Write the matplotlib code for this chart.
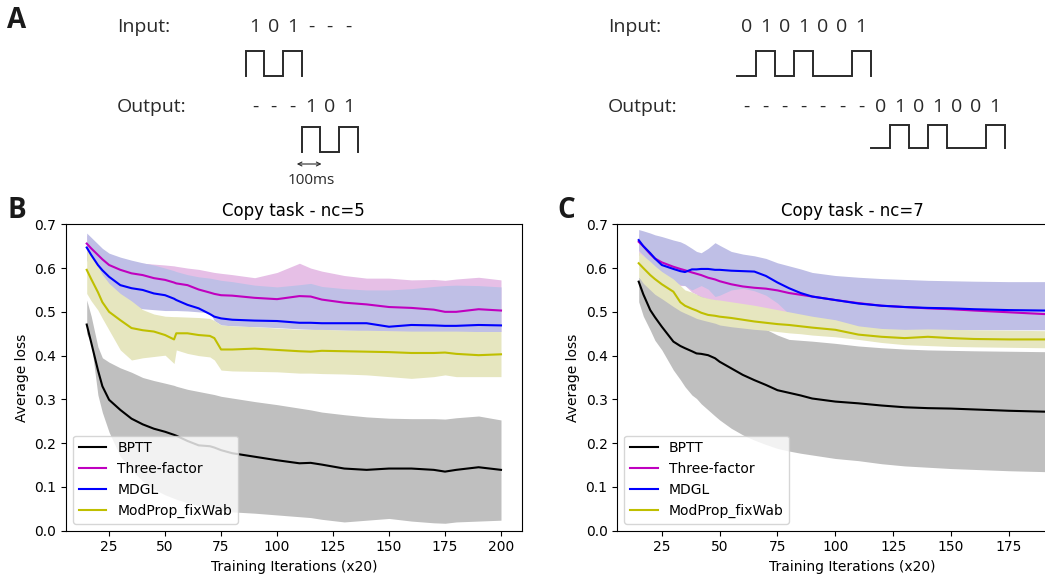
import matplotlib
matplotlib.use('Agg')
import matplotlib.pyplot as plt

# ---- panel A: copy task examples ----
bits_short = [1, 0, 1]
bits_long = [0, 1, 0, 1, 0, 0, 1]

# ---- panel B: copy task nc=5 ----
iters_b = [15, 17, 20, 22, 25, 30, 35, 40, 45, 50, 54, 55, 60, 65, 70, 72,
           75, 80, 90, 100, 110, 115, 120, 130, 140, 150, 160, 170, 175, 180, 190, 200]
bptt_b = [0.471, 0.43, 0.367, 0.33, 0.299, 0.276, 0.256, 0.243, 0.233, 0.226, 0.219, 0.217, 0.205, 0.195, 0.193, 0.19,
          0.184, 0.177, 0.169, 0.161, 0.154, 0.155, 0.151, 0.142, 0.139, 0.142, 0.142, 0.139, 0.135, 0.139, 0.145, 0.139]
bptt_b_hi = [0.527, 0.49, 0.42, 0.395, 0.385, 0.372, 0.362, 0.35, 0.343, 0.337, 0.332, 0.33, 0.323, 0.318, 0.313, 0.311,
             0.307, 0.303, 0.295, 0.288, 0.28, 0.276, 0.271, 0.265, 0.26, 0.257, 0.256, 0.256, 0.255, 0.258, 0.262, 0.253]
bptt_b_lo = [0.45, 0.43, 0.31, 0.27, 0.225, 0.17, 0.14, 0.113, 0.095, 0.082, 0.074, 0.072, 0.064, 0.057, 0.052, 0.05,
             0.047, 0.043, 0.04, 0.036, 0.032, 0.03, 0.026, 0.02, 0.024, 0.028, 0.022, 0.018, 0.017, 0.02, 0.022, 0.024]
three_b = [0.656, 0.645, 0.63, 0.62, 0.607, 0.596, 0.588, 0.584, 0.577, 0.573, 0.567, 0.565, 0.561, 0.551, 0.544, 0.541,
           0.538, 0.537, 0.532, 0.529, 0.536, 0.535, 0.528, 0.521, 0.517, 0.511, 0.509, 0.505, 0.5, 0.5, 0.506, 0.503]
three_b_hi = [0.676, 0.665, 0.65, 0.64, 0.63, 0.62, 0.615, 0.611, 0.609, 0.607, 0.605, 0.604, 0.6, 0.597, 0.592, 0.59,
              0.588, 0.585, 0.578, 0.59, 0.611, 0.6, 0.593, 0.583, 0.577, 0.577, 0.573, 0.574, 0.572, 0.575, 0.579, 0.573]
three_b_lo = [0.63, 0.62, 0.6, 0.59, 0.575, 0.56, 0.55, 0.54, 0.535, 0.53, 0.525, 0.52, 0.515, 0.505, 0.5, 0.495,
              0.49, 0.49, 0.485, 0.48, 0.47, 0.47, 0.465, 0.46, 0.46, 0.455, 0.455, 0.455, 0.455, 0.455, 0.455, 0.455]
mdgl_b = [0.647, 0.63, 0.607, 0.595, 0.58, 0.561, 0.554, 0.55, 0.542, 0.538, 0.53, 0.527, 0.516, 0.508, 0.495, 0.489,
          0.485, 0.482, 0.48, 0.479, 0.475, 0.475, 0.474, 0.474, 0.474, 0.466, 0.47, 0.469, 0.468, 0.468, 0.47, 0.469]
mdgl_b_hi = [0.68, 0.67, 0.655, 0.645, 0.634, 0.625, 0.618, 0.612, 0.607, 0.6, 0.594, 0.592, 0.585, 0.58, 0.577, 0.575,
             0.572, 0.569, 0.561, 0.557, 0.562, 0.565, 0.558, 0.553, 0.55, 0.55, 0.553, 0.558, 0.56, 0.561, 0.56, 0.557]
mdgl_b_lo = [0.618, 0.6, 0.575, 0.562, 0.55, 0.527, 0.512, 0.507, 0.505, 0.503, 0.503, 0.503, 0.502, 0.5, 0.498, 0.48,
             0.47, 0.468, 0.466, 0.464, 0.461, 0.46, 0.459, 0.458, 0.457, 0.456, 0.455, 0.455, 0.455, 0.455, 0.455, 0.455]
modprop_b = [0.596, 0.575, 0.545, 0.522, 0.5, 0.481, 0.463, 0.458, 0.455, 0.447, 0.437, 0.451, 0.451, 0.447, 0.445, 0.44,
             0.414, 0.414, 0.416, 0.413, 0.41, 0.409, 0.411, 0.41, 0.409, 0.408, 0.406, 0.406, 0.407, 0.404, 0.401, 0.403]
modprop_b_hi = [0.649, 0.63, 0.603, 0.585, 0.565, 0.542, 0.525, 0.505, 0.495, 0.49, 0.489, 0.489, 0.488, 0.487, 0.485, 0.48,
                0.47, 0.468, 0.466, 0.463, 0.46, 0.46, 0.46, 0.458, 0.458, 0.457, 0.456, 0.456, 0.456, 0.456, 0.455, 0.455]
modprop_b_lo = [0.542, 0.525, 0.504, 0.485, 0.458, 0.413, 0.39, 0.395, 0.398, 0.401, 0.382, 0.413, 0.405, 0.4, 0.397, 0.39,
                0.367, 0.365, 0.364, 0.363, 0.36, 0.36, 0.359, 0.358, 0.356, 0.352, 0.348, 0.352, 0.356, 0.352, 0.352, 0.352]

# ---- panel C: copy task nc=7 ----
iters_c = [15, 17, 20, 22, 25, 30, 33, 35, 38, 40, 42, 45, 48, 50, 55, 60,
           65, 70, 75, 80, 85, 90, 100, 110, 120, 130, 140, 150, 160, 175, 190, 200]
bptt_c = [0.569, 0.54, 0.504, 0.488, 0.466, 0.432, 0.422, 0.417, 0.41, 0.405, 0.404, 0.401, 0.394, 0.386, 0.371, 0.356,
          0.344, 0.333, 0.321, 0.315, 0.309, 0.302, 0.295, 0.291, 0.286, 0.282, 0.28, 0.279, 0.277, 0.274, 0.272, 0.271]
bptt_c_hi = [0.58, 0.57, 0.56, 0.555, 0.55, 0.545, 0.542, 0.54, 0.541, 0.54, 0.54, 0.535, 0.53, 0.52, 0.5, 0.485,
             0.47, 0.46, 0.447, 0.437, 0.435, 0.433, 0.428, 0.422, 0.418, 0.415, 0.413, 0.412, 0.411, 0.41, 0.409, 0.409]
bptt_c_lo = [0.523, 0.49, 0.458, 0.435, 0.413, 0.367, 0.345, 0.329, 0.31, 0.302, 0.29, 0.276, 0.262, 0.253, 0.234, 0.219,
             0.207, 0.197, 0.188, 0.182, 0.177, 0.173, 0.165, 0.16, 0.153, 0.148, 0.145, 0.142, 0.14, 0.137, 0.135, 0.135]
three_c = [0.66, 0.65, 0.632, 0.622, 0.613, 0.603, 0.598, 0.595, 0.59, 0.587, 0.584, 0.578, 0.574, 0.57, 0.563, 0.558,
           0.555, 0.553, 0.549, 0.543, 0.539, 0.535, 0.527, 0.52, 0.514, 0.511, 0.508, 0.506, 0.503, 0.499, 0.495, 0.494]
three_c_hi = [0.678, 0.675, 0.67, 0.666, 0.662, 0.654, 0.65, 0.645, 0.635, 0.628, 0.625, 0.635, 0.648, 0.642, 0.628, 0.622,
              0.618, 0.614, 0.602, 0.595, 0.59, 0.58, 0.573, 0.57, 0.566, 0.564, 0.562, 0.561, 0.56, 0.559, 0.559, 0.559]
three_c_lo = [0.63, 0.62, 0.6, 0.59, 0.58, 0.565, 0.56, 0.56, 0.545, 0.54, 0.535, 0.53, 0.527, 0.525, 0.52, 0.515,
              0.51, 0.505, 0.5, 0.498, 0.49, 0.485, 0.48, 0.47, 0.47, 0.468, 0.468, 0.468, 0.468, 0.468, 0.468, 0.468]
mdgl_c = [0.664, 0.65, 0.634, 0.622, 0.607, 0.598, 0.593, 0.591, 0.597, 0.597, 0.598, 0.598, 0.596, 0.596, 0.594, 0.593,
          0.592, 0.582, 0.567, 0.554, 0.543, 0.535, 0.527, 0.519, 0.514, 0.511, 0.509, 0.508, 0.506, 0.504, 0.503, 0.503]
mdgl_c_hi = [0.688, 0.685, 0.68, 0.676, 0.672, 0.664, 0.66, 0.655, 0.645, 0.638, 0.635, 0.645, 0.658, 0.652, 0.638, 0.632,
             0.628, 0.622, 0.612, 0.605, 0.598, 0.59, 0.583, 0.579, 0.576, 0.574, 0.572, 0.571, 0.57, 0.569, 0.569, 0.569]
mdgl_c_lo = [0.64, 0.63, 0.61, 0.6, 0.585, 0.57, 0.562, 0.56, 0.55, 0.555, 0.56, 0.552, 0.535, 0.538, 0.55, 0.554,
             0.548, 0.538, 0.52, 0.495, 0.485, 0.48, 0.475, 0.462, 0.46, 0.459, 0.459, 0.459, 0.459, 0.459, 0.459, 0.459]
modprop_c = [0.611, 0.6, 0.584, 0.575, 0.563, 0.546, 0.522, 0.514, 0.507, 0.503, 0.498, 0.493, 0.491, 0.489, 0.486, 0.482,
             0.478, 0.475, 0.472, 0.47, 0.467, 0.464, 0.459, 0.448, 0.443, 0.44, 0.443, 0.44, 0.438, 0.437, 0.437, 0.437]
modprop_c_hi = [0.637, 0.628, 0.615, 0.605, 0.592, 0.575, 0.56, 0.55, 0.545, 0.54, 0.535, 0.531, 0.528, 0.527, 0.523, 0.519,
                0.515, 0.51, 0.505, 0.5, 0.495, 0.49, 0.482, 0.468, 0.462, 0.46, 0.461, 0.46, 0.459, 0.458, 0.457, 0.457]
modprop_c_lo = [0.58, 0.565, 0.55, 0.54, 0.53, 0.512, 0.502, 0.497, 0.49, 0.485, 0.482, 0.478, 0.474, 0.47, 0.466, 0.463,
                0.46, 0.458, 0.455, 0.452, 0.45, 0.447, 0.443, 0.437, 0.43, 0.425, 0.423, 0.421, 0.42, 0.419, 0.418, 0.418]

methods = ['BPTT', 'Three-factor', 'MDGL', 'ModProp_fixWab']
line_colors = ['k', 'm', 'b', 'y']
band_colors = ['#bfbfbf', '#e6bfe6', '#bfbfe6', '#e6e6bf']

ill_font = ['Open Sans', 'DejaVu Sans']
ink = '#2a2a2a'

fig = plt.figure(figsize=(10.45, 5.76), dpi=100)

# illustration layer, pixel coordinates
axA = fig.add_axes([0, 0, 1, 1])
axA.set_xlim(0, 1045)
axA.set_ylim(576, 0)
axA.axis('off')


def square_wave(bits, x0, w, y_low, y_high):
    xs, ys = [x0], [y_low]
    for i, b in enumerate(bits):
        lvl = y_high if b else y_low
        xs += [x0 + i * w, x0 + (i + 1) * w]
        ys += [lvl, lvl]
    xs.append(x0 + len(bits) * w)
    ys.append(y_low)
    return xs, ys


def draw_example(bits, label_x, x0, w, out_lo, out_hi, input_dashes=True, arrow=False):
    n = len(bits)
    axA.text(label_x, 32, 'Input:', fontsize=14, family=ill_font, color=ink, va='baseline')
    axA.text(label_x, 112, 'Output:', fontsize=14, family=ill_font, color=ink, va='baseline')
    ins = [str(b) for b in bits] + (['-'] * n if input_dashes else [''] * n)
    outs = ['-'] * n + [str(b) for b in bits]
    for i in range(2 * n):
        cx = x0 + (i + 0.5) * w
        axA.text(cx, 32, ins[i], fontsize=14, family=ill_font, color=ink, ha='center', va='baseline')
        axA.text(cx, 112, outs[i], fontsize=14, family=ill_font, color=ink, ha='center', va='baseline')
    xs, ys = square_wave(bits, x0, w, 75.7, 50.7)
    axA.plot(xs, ys, color=ink, lw=1.4, solid_joinstyle='miter')
    xs, ys = square_wave(bits, x0 + n * w, w, out_lo, out_hi)
    axA.plot(xs, ys, color=ink, lw=1.4, solid_joinstyle='miter')
    if arrow:
        s = x0 + n * w
        axA.annotate('', xy=(s - 5, 164), xytext=(s + w + 1, 164),
                     arrowprops=dict(arrowstyle='<->', lw=0.8, color=ink, mutation_scale=7,
                                     shrinkA=0, shrinkB=0))
        axA.text(s + w / 2, 181, '100ms', fontsize=11, family=ill_font, color=ink,
                 ha='center', va='center')


draw_example(bits_short, 117, 245.7, 18.7, 152.3, 127.3, arrow=True)
draw_example(bits_long, 608, 736.7, 19.14, 148.3, 125.0, input_dashes=False)

for lx, ly, letter in [(7, 28, 'A'), (7, 218, 'B'), (557, 218, 'C')]:
    axA.text(lx, ly, letter, fontsize=20, fontweight='bold', family=ill_font, color='#1a1a1a', va='baseline')

# loss curves
axB = fig.add_axes([66 / 1045, 45.3 / 576, 455.7 / 1045, 306.4 / 576])
axC = fig.add_axes([617.3 / 1045, 45.3 / 576, 470.7 / 1045, 306.4 / 576])

panels = [
    (axB, 'Copy task - nc=5', iters_b, [25, 50, 75, 100, 125, 150, 175, 200],
     [(bptt_b, bptt_b_lo, bptt_b_hi), (three_b, three_b_lo, three_b_hi),
      (mdgl_b, mdgl_b_lo, mdgl_b_hi), (modprop_b, modprop_b_lo, modprop_b_hi)]),
    (axC, 'Copy task - nc=7', iters_c, [25, 50, 75, 100, 125, 150, 175],
     [(bptt_c, bptt_c_lo, bptt_c_hi), (three_c, three_c_lo, three_c_hi),
      (mdgl_c, mdgl_c_lo, mdgl_c_hi), (modprop_c, modprop_c_lo, modprop_c_hi)]),
]

for ax, title, x, xt, series in panels:
    for k, (mean, lo, hi) in enumerate(series):
        ax.fill_between(x, lo, hi, color=band_colors[k], lw=0, zorder=1 + 0.1 * k)
    for k, (mean, lo, hi) in enumerate(series):
        ax.plot(x, mean, color=line_colors[k], lw=1.5, label=methods[k], zorder=3)
    ax.set_xlim(5.75, 209.25)
    ax.set_ylim(0, 0.7)
    ax.set_xticks(xt)
    ax.set_yticks([0.0, 0.1, 0.2, 0.3, 0.4, 0.5, 0.6, 0.7])
    ax.set_title(title)
    ax.set_xlabel('Training Iterations (x20)')
    ax.set_ylabel('Average loss')
    ax.legend(loc='lower left')

fig.savefig('out.png', dpi=100)
